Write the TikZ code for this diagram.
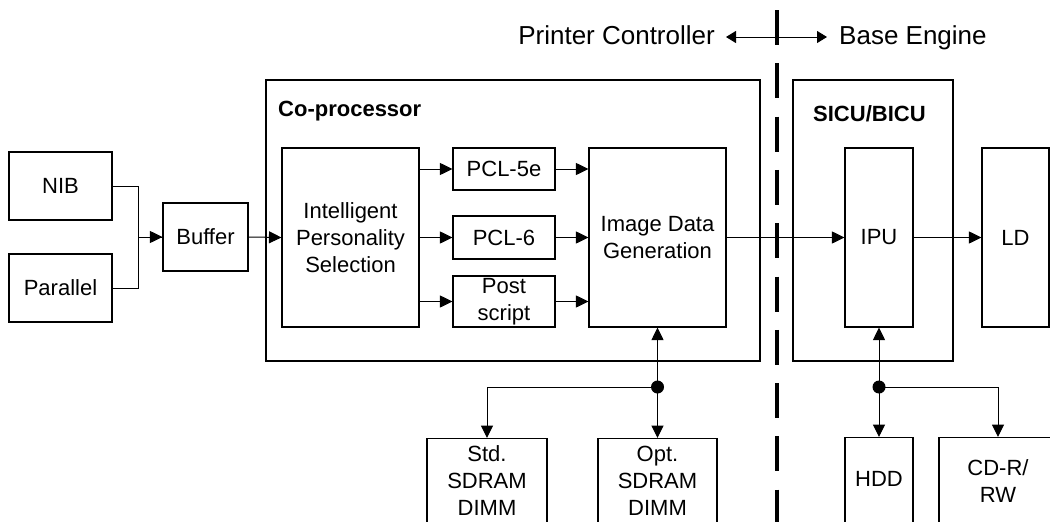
\documentclass[tikz,border=0pt]{standalone}
\usepackage{fontspec}
\setmainfont{Liberation Sans}
\usetikzlibrary{arrows.meta}
\begin{document}
\begin{tikzpicture}[x=1pt,y=-1pt,
  box/.style={draw, line width=1.1pt, align=center, inner sep=0pt,
    font=\fontsize{22}{27}\selectfont},
  lbl/.style={align=center, inner sep=0pt, font=\fontsize{22}{27}\selectfont},
  conn/.style={line width=1pt},
  arr/.style={line width=1pt, -{Triangle[length=12.5pt,width=12pt]}},
  title/.style={inner sep=0pt, font=\fontsize{22}{27}\selectfont\bfseries},
  head/.style={inner sep=0pt, font=\fontsize{26}{31}\selectfont},
  dot/.style={circle, fill=black, inner sep=0pt, minimum size=13pt}]
\useasboundingbox (0,0) rectangle (1050,522);
\clip (0,0) rectangle (1050,522);
\fill[white] (0,0) rectangle (1050,522);

% header
\node[head, anchor=base east] (pc) at (715,45) {Printer Controller};
\node[head, anchor=base west] (be) at (839,45) {Base Engine};
\coordinate (hl) at (726,37);
\coordinate (hr) at (827,37);
\draw[line width=1pt, {Triangle[length=10pt,width=12pt]}-{Triangle[length=10pt,width=12pt]}]
  (hl) -- (hr);

% containers
\node[box, minimum width=494, minimum height=281] (copro) at (513,220.5) {};
\node[title, anchor=base west] (coprot) at (278,116) {Co-processor};
\node[box, minimum width=160, minimum height=281] (sicu) at (873,220.5) {};
\node[title, anchor=base west] (sicut) at (813,121) {SICU/BICU};

% boxes
\node[box, minimum width=103, minimum height=68] (nib) at (60.5,186) {NIB};
\node[box, minimum width=103, minimum height=68] (par) at (60.5,288) {Parallel};
\node[box, minimum width=85, minimum height=68] (buf) at (205.5,237) {Buffer};
\node[box, minimum width=137, minimum height=179] (ips) at (350.5,237.5) {Intelligent\\Personality\\Selection};
\node[box, minimum width=102, minimum height=42] (pcl5) at (504,169) {PCL-5e};
\node[box, minimum width=102, minimum height=43] (pcl6) at (504,237.5) {PCL-6};
\node[box, minimum width=102, minimum height=51] (ps) at (504,301.5) {Post\\script};
\node[box, minimum width=137, minimum height=179] (idg) at (657.5,237.5) {Image Data\\Generation};
\node[box, minimum width=68, minimum height=179] (ipu) at (879,237.5) {IPU};
\node[box, minimum width=67, minimum height=179] (ld) at (1015.5,237.5) {LD};

\node[box, minimum width=120, minimum height=110, anchor=north,
  label={[lbl, yshift=13pt]center:{Std.\\SDRAM\\DIMM}}] (std) at (487,438) {};
\node[box, minimum width=119, minimum height=110, anchor=north,
  label={[lbl, yshift=13pt]center:{Opt.\\SDRAM\\DIMM}}] (opt) at (657.5,438) {};
\node[box, minimum width=68, minimum height=110, anchor=north,
  label={[lbl, yshift=14pt]center:{HDD}}] (hdd) at (879,437) {};
\node[box, minimum width=118, minimum height=110, anchor=north,
  label={[lbl, yshift=12pt]center:{CD-R/\\RW}}] (cdr) at (998,437) {};

% divider
\draw[line width=4pt, dash pattern=on 35pt off 18.3pt] (777,10) -- (777,530);

% connectors
\draw[conn] (nib.east) -- ++(26,0) |- (buf.west);
\draw[arr] (par.east) -- ++(26,0) |- (buf.west);
\draw[arr] (buf.east) -- (ips.west);
\draw[arr] (ips.east |- pcl5.west) -- (pcl5.west);
\draw[arr] (ips.east |- pcl6.west) -- (pcl6.west);
\draw[arr] (ips.east |- ps.west) -- (ps.west);
\draw[arr] (pcl5.east) -- (idg.west |- pcl5.east);
\draw[arr] (pcl6.east) -- (idg.west |- pcl6.east);
\draw[arr] (ps.east) -- (idg.west |- ps.east);
\draw[arr] (idg.east) -- (ipu.west);
\draw[arr] (ipu.east) -- (ld.west);

\coordinate (j1) at (657.5,387);
\draw[arr] (j1) -- (idg.south);
\draw[arr] (j1) -- (opt.north);
\draw[arr] (j1) -| (std.north);
\node[dot] (d1) at (j1) {};

\coordinate (j2) at (879,387);
\draw[arr] (j2) -- (ipu.south);
\draw[arr] (j2) -- (hdd.north);
\draw[arr] (j2) -| (cdr.north);
\node[dot] (d2) at (j2) {};
\end{tikzpicture}
\end{document}
